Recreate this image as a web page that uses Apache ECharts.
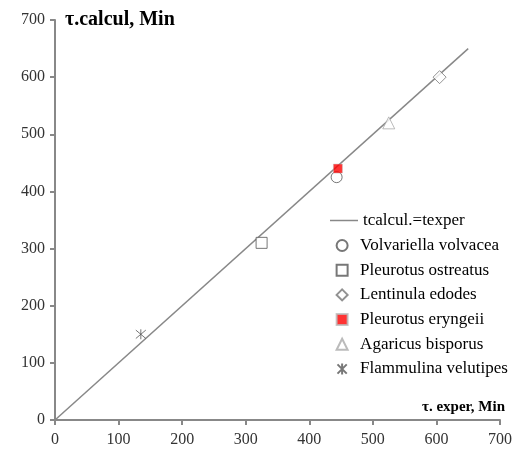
<!DOCTYPE html>
<html><head><meta charset="utf-8">
<script src="https://cdn.jsdelivr.net/npm/echarts@6/dist/echarts.min.js"></script>
<style>html,body{margin:0;padding:0;background:#fff}#c{width:518px;height:454px}</style>
</head><body><div id="c"></div>
<script>
const lineName = 'tcalcul.=texper';
const lineData = [[0, 0], [650, 650]];
const seriesNames = ['Volvariella volvacea','Pleurotus ostreatus','Lentinula edodes','Pleurotus eryngeii','Agaricus bisporus','Flammulina velutipes'];
const volvariella = [[443, 425]];
const ostreatus = [[325, 310]];
const lentinula = [[605, 600]];
const eryngeii = [[445, 440]];
const agaricus = [[525, 520]];
const flammulina = [[135, 150]];
const axisTicks = [0,100,200,300,400,500,600,700];

const starPath = 'path://M5,0L5,10M0.8,0.8L9.2,9.2M0.8,9.2L9.2,0.8';
const font = '"Liberation Serif","Times New Roman",serif';
const pts = [volvariella, ostreatus, lentinula, eryngeii, agaricus, flammulina];
const styles = [
  {symbol:'circle', size:11, item:{color:'#fff', borderColor:'#555', borderWidth:1}},
  {symbol:'rect', size:11, item:{color:'#fff', borderColor:'#555', borderWidth:1}},
  {symbol:'diamond', size:13, item:{color:'#fff', borderColor:'#777', borderWidth:1}},
  {symbol:'rect', size:9, item:{color:'#ff0000', borderColor:'#bbb', borderWidth:0.5}},
  {symbol:'triangle', size:12, item:{color:'#fff', borderColor:'#aaa', borderWidth:1}},
  {symbol:starPath, size:10, item:{color:'none', borderColor:'#555', borderWidth:1}}
];
const scatterSeries = seriesNames.map((n,i)=>({
  name:n, type:'scatter', data:pts[i], symbol:styles[i].symbol, symbolSize:styles[i].size,
  itemStyle:styles[i].item, z:3
}));

const chart = echarts.init(document.getElementById('c'));
chart.setOption({
  animation:false,
  grid:{left:55, right:18, top:20, bottom:34},
  xAxis:{type:'value', min:0, max:700, interval:100,
    name:'τ. exper, Min', nameLocation:'end', nameGap:5,
    nameTextStyle:{fontFamily:font, fontWeight:'bold', fontSize:15, color:'#000', align:'right', verticalAlign:'bottom', padding:[0,0,5,0]},
    axisLine:{lineStyle:{color:'#888', width:2}},
    axisTick:{show:true, inside:false, length:5, lineStyle:{color:'#888', width:2}},
    axisLabel:{fontFamily:font, fontSize:16, color:'#333', margin:12},
    splitLine:{show:false}},
  yAxis:{type:'value', min:0, max:700, interval:100,
    name:'τ.calcul, Min', nameLocation:'end', nameGap:0,
    nameTextStyle:{fontFamily:font, fontWeight:'bold', fontSize:20, color:'#000', align:'left', verticalAlign:'middle', padding:[0,0,0,10]},
    axisLine:{show:true, lineStyle:{color:'#888', width:2}},
    axisTick:{show:true, inside:false, length:5, lineStyle:{color:'#888', width:2}},
    axisLabel:{fontFamily:font, fontSize:16, color:'#333', margin:10},
    splitLine:{show:false}},
  legend:[
    {data:[{name:lineName, icon:'rect'}], orient:'vertical', left:325, top:207, itemWidth:28, itemHeight:1.5,
     textStyle:{fontFamily:font, fontSize:17, color:'#000'}},
    {data:seriesNames, orient:'vertical', left:330, top:232, itemWidth:11, itemHeight:11, itemGap:7.7,
     textStyle:{fontFamily:font, fontSize:17, color:'#000', padding:[0,0,0,7.5]}}
  ],
  series:[{name:lineName, type:'line', data:lineData, symbol:'none', lineStyle:{color:'#888', width:1.5}, itemStyle:{color:'#888'}, z:2}].concat(scatterSeries)
});
</script></body></html>
